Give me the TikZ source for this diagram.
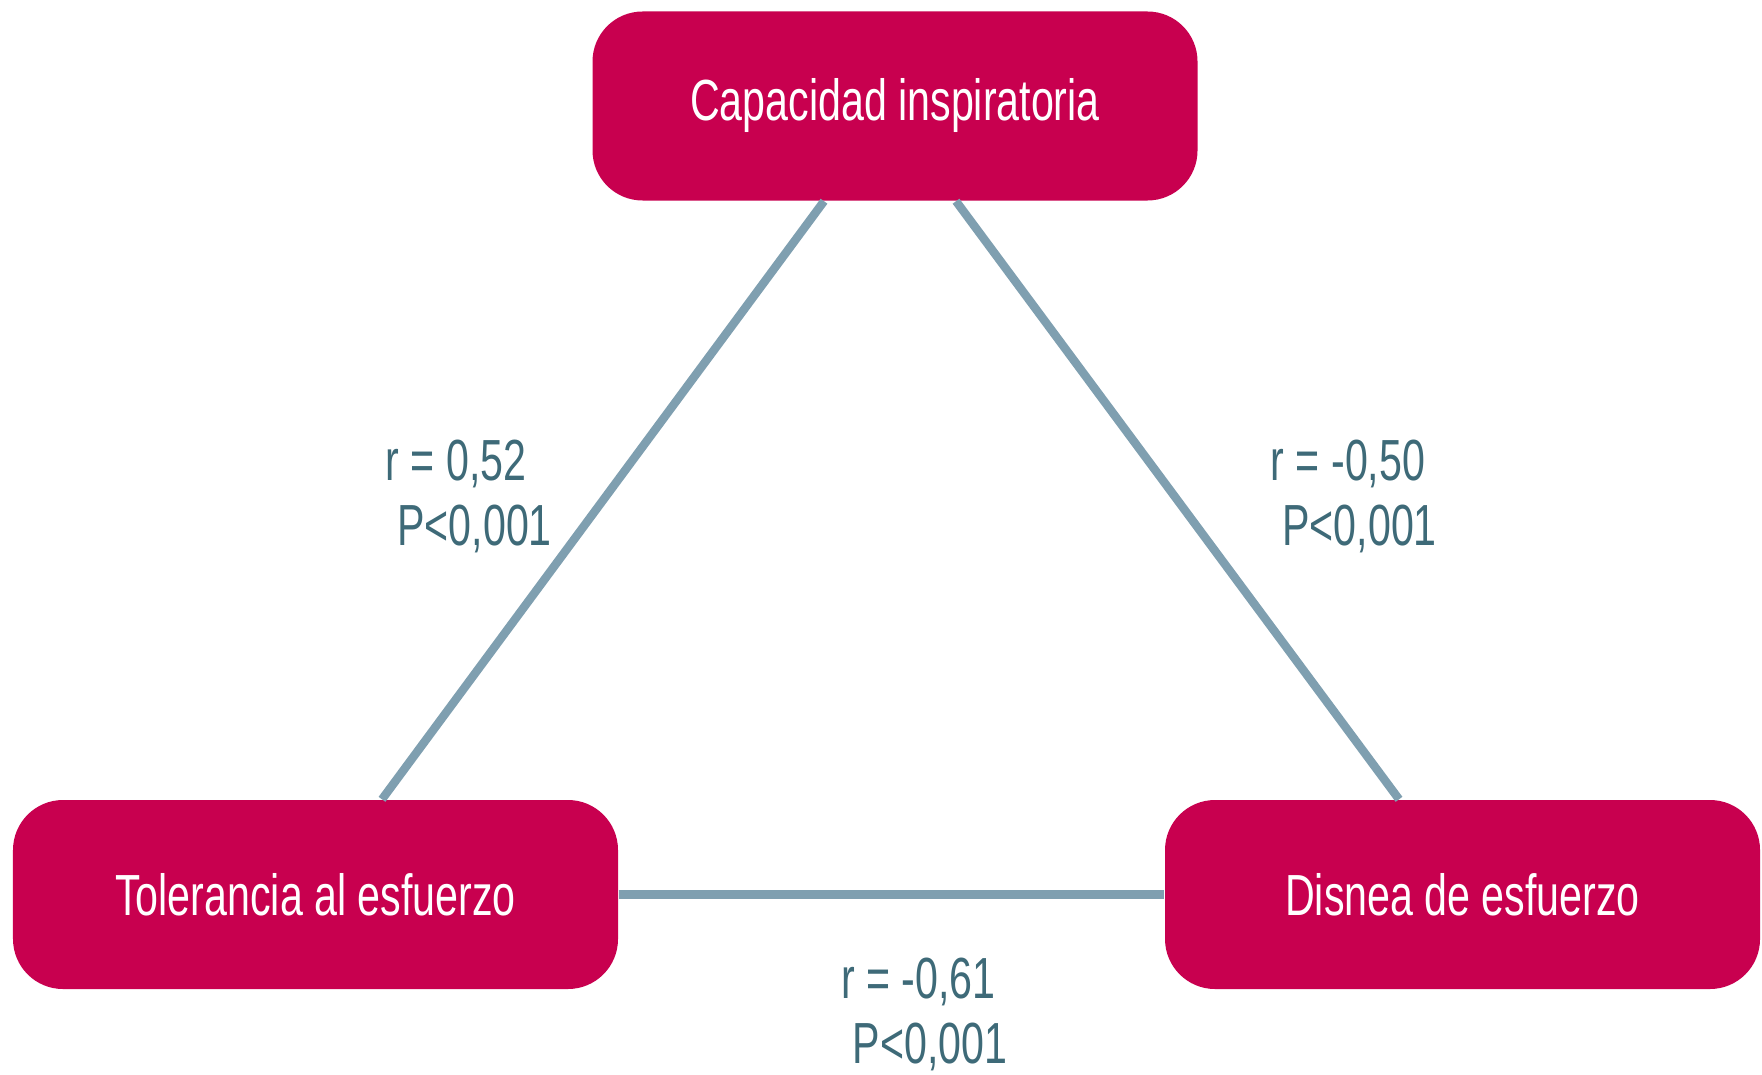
\documentclass[tikz,border=0pt]{standalone}
\usepackage{fontspec}
\usepackage{xcolor}
\usetikzlibrary{positioning, calc}
\newfontfamily\narrowsans[FakeStretch=0.71]{Liberation Sans}
\definecolor{boxred}{HTML}{C8004F}
\definecolor{linkblue}{HTML}{7F9FB0}
\definecolor{lbltext}{HTML}{3E6A78}

\begin{document}
\begin{tikzpicture}[
        varbox/.style={rounded corners=0.5cm, fill=boxred, text=white, minimum width=#1, minimum height=1.89cm, font=\narrowsans\fontsize{16.5}{18.5}\selectfont, inner sep=0pt},
        varbox/.default=6.05cm,
        link/.style={draw=linkblue, line width=2.4pt},
        corr/.style={text=lbltext, font=\narrowsans\fontsize{16.5}{18.5}\selectfont, align=left, anchor=west, inner sep=0pt},
    ]
    \useasboundingbox (0,0) rectangle (17.62,-10.74);

    % Variables
    \node[varbox] (cap) at (8.95,-1.06) {Capacidad inspiratoria};
    \node[varbox] (tol) at (3.155,-8.945) {Tolerancia al esfuerzo};
    \node[varbox=5.95cm] (dis) at (14.625,-8.945) {Disnea de esfuerzo};

    % Correlations
    \draw[link] ([xshift=-0.71cm]cap.south) -- ([xshift=0.665cm]tol.north);
    \draw[link] ([xshift=0.61cm]cap.south) -- ([xshift=-0.635cm]dis.north);
    \draw[link] (tol.east) -- (dis.west);

    % Labels
    \node[corr] (rtl) at (3.85,-4.96) {r = 0,52\\\hspace*{0.2em}P<0,001};
    \node[corr] (rtr) at (12.70,-4.96) {r = -0,50\\\hspace*{0.2em}P<0,001};
    \node[corr] (rb) at (8.405,-10.14) {r = -0,61\\\hspace*{0.2em}P<0,001};

    \end{tikzpicture}
\end{document}
